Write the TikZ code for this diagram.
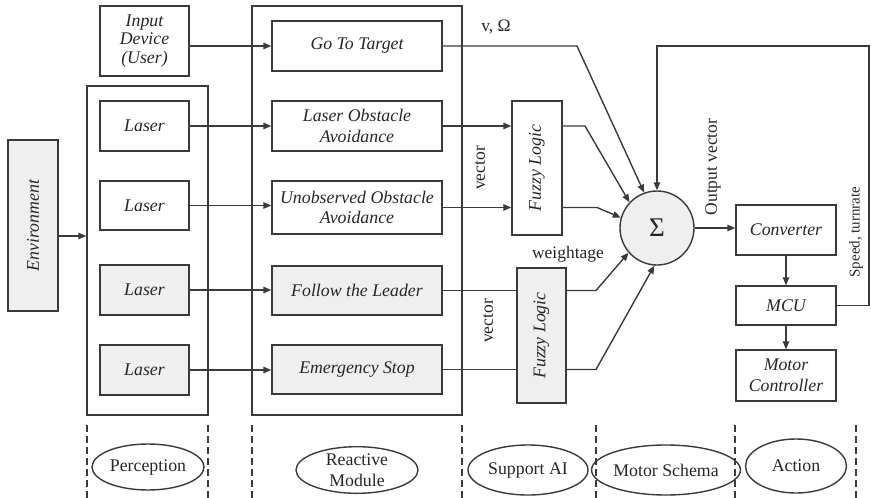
\documentclass[tikz,border=0pt]{standalone}
\usepackage{fontspec}
\setmainfont{Liberation Serif}
\usetikzlibrary{arrows.meta,shapes.geometric}
\definecolor{ink}{HTML}{3A3A3A}
\definecolor{shade}{HTML}{EFEFEF}
\begin{document}
\begin{tikzpicture}[x=1pt,y=-1pt,
  line width=1.4pt, draw=ink,
  every node/.style={font=\fontsize{17.5}{20}\selectfont, text=black!85},
  blk/.style={draw=ink, line width=1.4pt, inner sep=0pt, align=center,
    font=\fontsize{17.8}{20.5}\selectfont\itshape},
  grey/.style={fill=shade},
  frame/.style={draw=ink, line width=1.4pt, inner sep=0pt},
  tag/.style={draw=ink, line width=1.4pt, ellipse, inner sep=0pt, align=center,
    font=\fontsize{17.8}{21}\selectfont},
  lane/.style={ink, line width=1.4pt, dash pattern=on 7pt off 4pt},
  flow/.style={ink, line width=1.4pt, -{Triangle[length=8pt,width=6.5pt]}},
  link/.style={ink, line width=1.4pt}
]
\useasboundingbox (0,0) rectangle (871,498);

% stage frames
\node[frame, minimum width=121, minimum height=329] (perc) at (147.5,250.5) {};
\node[frame, minimum width=210, minimum height=409] (react) at (357,210.5) {};

% environment and user input
\node[blk, grey, minimum width=50, minimum height=171] (env) at (33,225.5)
  {\rotatebox{90}{Environment}};
\node[blk, minimum width=89, minimum height=70] (inp) at (144.5,41)
  {Input\\[-2pt]Device\\[-2pt](User)};

% perception sensors
\node[blk, minimum width=89, minimum height=50] (las1) at (144.5,126) {Laser};
\node[blk, minimum width=89, minimum height=49] (las2) at (144.5,205.5) {Laser};
\node[blk, grey, minimum width=89, minimum height=50] (las3) at (144.5,290) {Laser};
\node[blk, grey, minimum width=89, minimum height=50] (las4) at (144.5,370) {Laser};

% reactive behaviours
\node[blk, minimum width=170, minimum height=50] (gtt) at (357,46) {Go To Target};
\node[blk, minimum width=170, minimum height=50] (loa) at (357,126)
  {Laser Obstacle\\Avoidance};
\node[blk, minimum width=170, minimum height=53] (uoa) at (357,207.5)
  {Unobserved Obstacle\\Avoidance};
\node[blk, grey, minimum width=170, minimum height=49] (ftl) at (357,290.5)
  {Follow the Leader};
\node[blk, grey, minimum width=170, minimum height=49] (es) at (357,369.5)
  {Emergency Stop};

% fuzzy logic support
\node[blk, minimum width=50, minimum height=134] (fz1) at (537,168)
  {\rotatebox{90}{Fuzzy Logic}};
\node[blk, grey, minimum width=49, minimum height=135] (fz2) at (541.5,335.5)
  {\rotatebox{90}{Fuzzy Logic}};

% summation
\node[draw=ink, line width=1.4pt, circle, fill=shade, minimum size=74, inner sep=0pt,
  font=\fontsize{27}{28}\selectfont] (sig) at (657,228) {Σ};

% action chain
\node[blk, minimum width=100, minimum height=50] (conv) at (786,230) {Converter};
\node[blk, minimum width=100, minimum height=39] (mcu) at (786,305.5) {MCU};
\node[blk, minimum width=100, minimum height=51] (mc) at (786,375.5)
  {Motor\\Controller};

% inputs into the frames
\draw[flow] ([yshift=-10.5pt]env.east) -- ([yshift=-10.5pt]env.east -| perc.west);
\draw[flow] (inp.east |- gtt.west) -- (gtt.west);
\draw[flow] (las1.east) -- (loa.west);
\draw[flow] (las2.east) -- (las2.east -| uoa.west);
\draw[flow] (las3.east) -- (las3.east -| ftl.west);
\draw[flow] (las4.east) -- (las4.east -| es.west);

% behaviours into support AI
\draw[flow] (loa.east) -- (loa.east -| fz1.west);
\draw[flow] (uoa.east) -- (uoa.east -| fz1.west);
\draw[link] (ftl.east) -- (ftl.east -| fz2.west);
\draw[link] (es.east) -- (es.east -| fz2.west);

% motor schema inputs
\coordinate (b1) at (577,46);
\coordinate (b2) at (585,126);
\coordinate (b3) at (597,207.5);
\coordinate (b4) at (596,290.5);
\coordinate (b5) at (596,369.5);
\draw[flow] (gtt.east) -- (b1) -- (sig.110);
\draw[flow] (fz1.east |- loa.east) -- (b2) -- (sig.137);
\draw[flow] (fz1.east |- uoa.east) -- (b3) -- (sig.164);
\draw[flow] (fz2.east |- ftl.east) -- (b4) -- (sig.221);
\draw[flow] (fz2.east |- es.east) -- (b5) -- (sig.266);

% output and feedback loop
\draw[flow] (sig.east) -- (conv.west |- sig.east);
\draw[flow] (conv.south) -- (mcu.north);
\draw[flow] (mcu.south) -- (mc.north);
\coordinate (r1) at (869,305.5);
\coordinate (r2) at (869,46);
\draw[flow] (mcu.east) -- (r1) -- (r2) -- (sig.north |- r2) -- (sig.north);

% signal labels
\node (lvw) at (496,27) {v, Ω};
\node[rotate=90] (lvec1) at (480,168) {vector};
\node[rotate=90] (lvec2) at (488,321) {vector};
\node (lwt) at (568,254) {weightage};
\node[rotate=90] (lout) at (713,167) {Output vector};
\node[rotate=90, font=\fontsize{15}{17}\selectfont] (lspd) at (856,232) {Speed, turnrate};

% stage lanes
\foreach \x in {87,208,252,462,596,735,856}
  \draw[lane] (\x,425) -- (\x,498);

% stage names
\node[tag, minimum width=112, minimum height=46] (sPer) at (148,467) {Perception};
\node[tag, minimum width=122, minimum height=46] (sRea) at (357,470)
  {Reactive\\Module};
\node[tag, minimum width=120, minimum height=50] (sSup) at (528,470) {Support AI};
\node[tag, minimum width=121, minimum height=50] (sMot) at (666,470) {Motor Schema};
\node[tag, minimum width=101, minimum height=54] (sAct) at (796,466) {Action};
\end{tikzpicture}
\end{document}
